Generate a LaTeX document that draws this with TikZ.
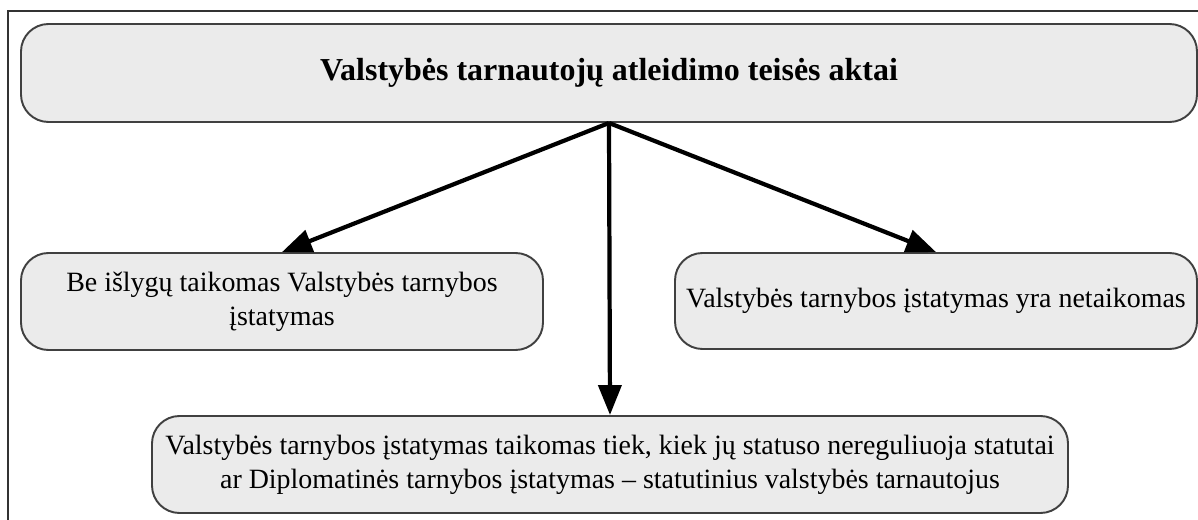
\documentclass[tikz,border=0pt]{standalone}
\usepackage{fontspec}
\setmainfont{Liberation Serif}
\usetikzlibrary{arrows.meta}
\definecolor{boxgray}{HTML}{EBEBEB}
\definecolor{edgegray}{HTML}{404040}

\begin{document}
\begin{tikzpicture}[x=0.02cm, y=-0.02cm,
  actbox/.style={draw=edgegray, fill=boxgray, line width=1.1pt, rounded corners=0.55cm, align=center, inner sep=0pt},
  acttext/.style={font=\fontsize{15.9}{19.5}\selectfont},
  actarrow/.style={-{Triangle[length=17pt, width=13pt]}, line width=2.4pt, draw=black}]
\useasboundingbox (0,0) rectangle (1198,520);
\draw[line width=0.8pt, draw=black!80] (8,11) rectangle (1230,560);
\node[actbox, minimum width=1176*0.02cm, minimum height=98*0.02cm, font=\fontsize{18.2}{22}\selectfont\bfseries] (acts) at (609,73) {Valstybės tarnautojų atleidimo teisės aktai};
\node[actbox, acttext, minimum width=522*0.02cm, minimum height=97*0.02cm] (full) at (282,301.5) {Be išlygų taikomas Valstybės tarnybos\\įstatymas};
\node[actbox, acttext, minimum width=522*0.02cm, minimum height=96*0.02cm] (none) at (936,301) {Valstybės tarnybos įstatymas yra netaikomas};
\node[actbox, acttext, minimum width=916*0.02cm, minimum height=97*0.02cm] (part) at (610,464.5) {Valstybės tarnybos įstatymas taikomas tiek, kiek jų statuso nereguliuoja statutai\\ar Diplomatinės tarnybos įstatymas -- statutinius valstybės tarnautojus};
\draw[actarrow] (acts.south) -- (full.north);
\draw[actarrow] (acts.south) -- (part.north);
\draw[actarrow] (acts.south) -- (none.north);
\end{tikzpicture}
\end{document}
